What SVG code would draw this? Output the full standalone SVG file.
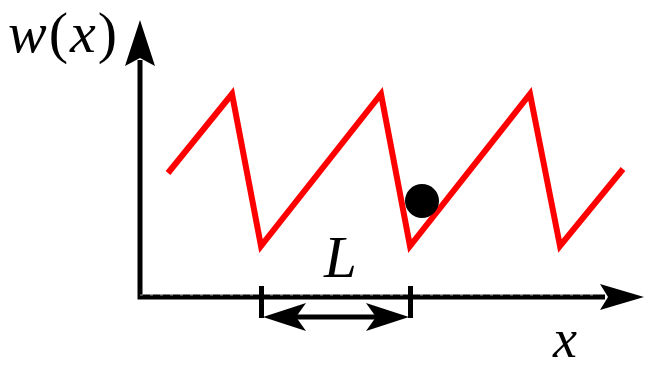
<svg xmlns="http://www.w3.org/2000/svg" width="646" height="369" viewBox="0 0 646 369">
<style>
.ax{stroke:#000;stroke-width:5;fill:none}
.t{font-family:"Liberation Serif",serif;font-style:italic;fill:#000}
.up{font-style:normal}
</style>
<rect width="646" height="369" fill="#fff"/>
<g id="connectors">
<g id="axes">
<polyline class="ax" points="140,60 140,297 605,297"/>
<line x1="140" y1="295" x2="600" y2="295" stroke="#fff" stroke-width="1" stroke-dasharray="3 7" opacity="0.6"/>
<path d="M140,20 L155,66 L140,58 L125,66 Z" fill="#000"/>
<path d="M644,297 L600,284 L608,297 L600,310 Z" fill="#000"/>
</g>
<g id="dimension">
<line class="ax" x1="261.5" y1="286" x2="261.5" y2="318"/>
<line class="ax" x1="410.5" y1="286" x2="410.5" y2="318"/>
<line class="ax" x1="280" y1="317" x2="392" y2="317"/>
<path d="M263,317 L306,303 L296,317 L306,331 Z" fill="#000"/>
<path d="M409,317 L366,303 L376,317 L366,331 Z" fill="#000"/>
</g>
</g>
<g id="curve">
<polyline points="168,173 232,94 261,246 381,94 410,246 530,94 560,246 623,169" fill="none" stroke="#f00" stroke-width="6" stroke-linejoin="miter" stroke-miterlimit="10"/>
</g>
<g id="ball"><circle cx="422" cy="201" r="17" fill="#000"/></g>
<g id="labels">
<text class="t" x="8" y="52" font-size="58" letter-spacing="2">w<tspan class="up">(</tspan>x<tspan class="up">)</tspan></text>
<text class="t" x="324" y="277" font-size="59">L</text>
<text class="t" x="553" y="357" font-size="54">x</text>
</g>
</svg>
